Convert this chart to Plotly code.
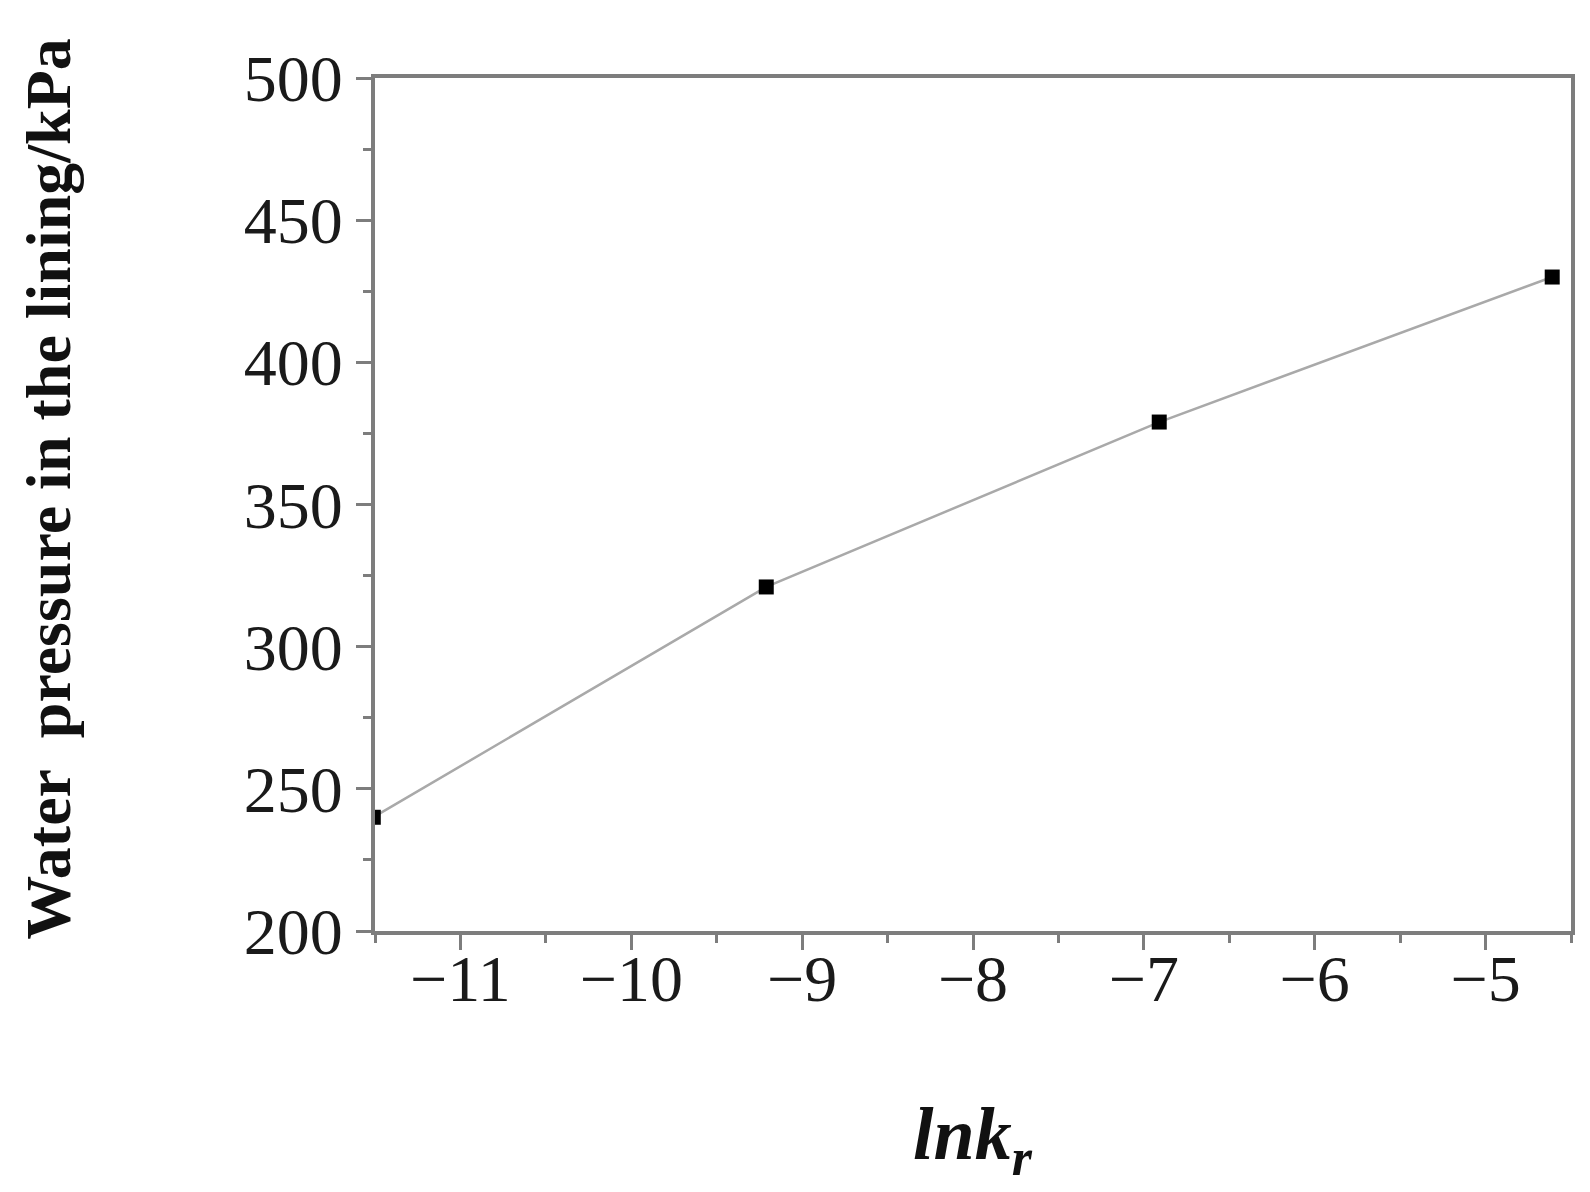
import plotly.graph_objects as go

# lnk_r values and water pressure in the lining (kPa)
LNK = [-11.51, -9.21, -6.91, -4.61]
PRESSURE = [240, 321, 379, 430]

X_TICKS = [-11, -10, -9, -8, -7, -6, -5]
Y_TICKS = [200, 250, 300, 350, 400, 450, 500]

AXIS = "#7d7d7d"
LINE = "#a9a9a9"
SERIF = "Liberation Serif, Times New Roman, serif"

fig = go.Figure()
fig.add_trace(go.Scatter(
    x=LNK, y=PRESSURE, mode="lines+markers",
    line=dict(color=LINE, width=2.5),
    marker=dict(symbol="square", size=15, color="#000000"),
    cliponaxis=True, showlegend=False,
))

axis_common = dict(
    showgrid=False, zeroline=False,
    showline=True, linecolor=AXIS, linewidth=4, mirror=True,
    ticks="outside", ticklen=15, tickwidth=3, tickcolor=AXIS,
    tickfont=dict(family=SERIF, size=66, color="#1a1a1a"),
)

fig.update_layout(
    width=1590, height=1192,
    margin=dict(l=367, r=27, t=70, b=269),
    paper_bgcolor="#ffffff",
    plot_bgcolor="#ffffff",
    xaxis=dict(range=[-11.5, -4.5], tickvals=X_TICKS, ticklabelstandoff=-28,
               minor=dict(dtick=0.5, tick0=0, ticks="outside", ticklen=8, tickwidth=3, tickcolor=AXIS),
               **axis_common),
    yaxis=dict(range=[200, 500], tickvals=Y_TICKS,
               minor=dict(dtick=25, tick0=0, ticks="outside", ticklen=8, tickwidth=3, tickcolor=AXIS),
               **axis_common),
    annotations=[
        dict(text="<b><i>lnk<sub>r</sub></i></b>",
             xref="paper", yref="paper",
             x=0.5, y=-0.245, xanchor="center", yanchor="middle", showarrow=False,
             font=dict(family=SERIF, size=74, color="#111111")),
        dict(text="<b>Water  pressure in the lining/kPa</b>", xref="paper", yref="paper",
             x=-0.273, y=0.518, xanchor="center", yanchor="middle", textangle=-90,
             showarrow=False, font=dict(family=SERIF, size=64, color="#111111")),
    ],
)

fig.write_html("out.html")
